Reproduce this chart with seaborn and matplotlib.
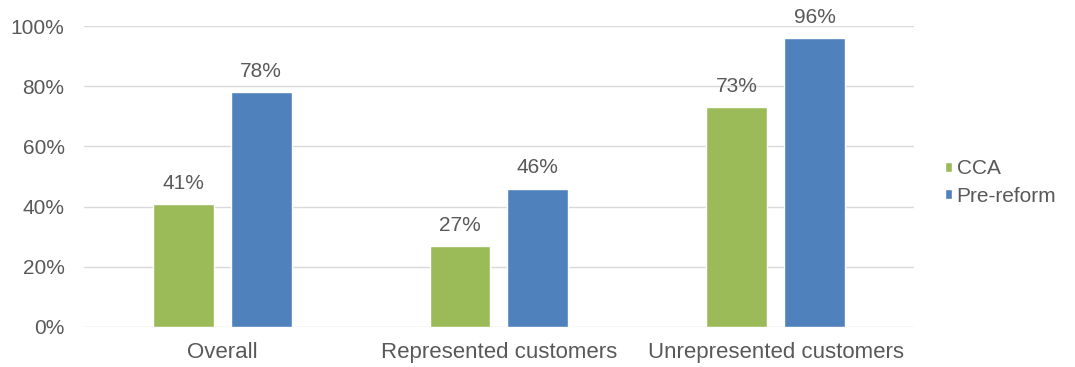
import pandas as pd
import matplotlib.pyplot as plt
import seaborn as sns
from matplotlib.ticker import PercentFormatter

# 数据
categories = ['Overall', 'Represented customers', 'Unrepresented customers']
cca = [41, 27, 73]
pre_reform = [78, 46, 96]
series_names = ['CCA', 'Pre-reform']

df = pd.DataFrame({
    'category': categories * 2,
    'value': cca + pre_reform,
    'series': [series_names[0]] * 3 + [series_names[1]] * 3,
})

sns.set_style('white')
plt.rcParams['font.family'] = ['Liberation Sans', 'DejaVu Sans']
text_color = '#595959'

fig = plt.figure(figsize=(10.75, 3.67), dpi=100)
ax = fig.add_axes([0.0781, 0.109, 0.772, 0.82])

sns.barplot(data=df, x='category', y='value', hue='series',
            palette=['#9BBB59', '#4F81BD'], width=0.563, gap=0.22,
            saturation=1, ax=ax, zorder=3)

# 数值标签
for c in ax.containers:
    ax.bar_label(c, fmt='%d%%', padding=8, fontsize=15, color=text_color)

ax.set_ylim(0, 100)
ax.set_yticks(range(0, 101, 20))
ax.yaxis.set_major_formatter(PercentFormatter(decimals=0))
ax.grid(axis='y', color='#D9D9D9', linewidth=1, zorder=0)
ax.set_axisbelow(True)
ax.set_xlabel('')
ax.set_ylabel('')
for s in ax.spines.values():
    s.set_visible(False)
ax.tick_params(axis='y', length=0, labelsize=15, colors=text_color, pad=14)
ax.tick_params(axis='x', length=0, labelsize=16, colors=text_color, pad=11)

ax.legend(loc='center left', bbox_to_anchor=(1.015, 0.48), frameon=False,
          fontsize=15, handlelength=0.35, handleheight=0.35,
          handletextpad=0.2, labelspacing=0.4, labelcolor=text_color)

fig.savefig('out.png', dpi=100)
